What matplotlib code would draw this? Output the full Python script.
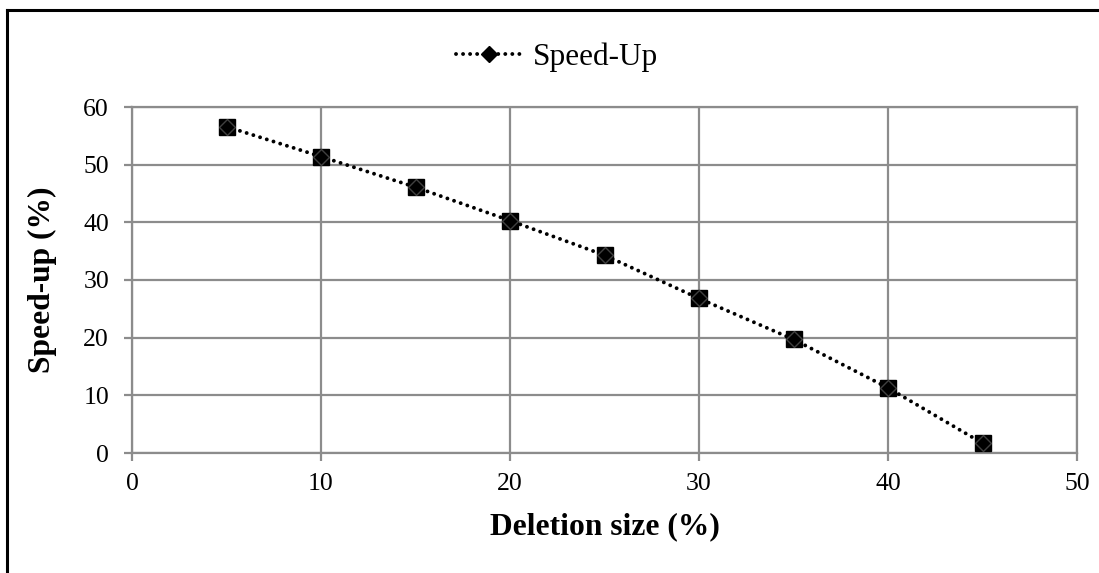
import matplotlib
matplotlib.use("Agg")
import matplotlib.pyplot as plt
from matplotlib.lines import Line2D

# data
deletion_size = [5, 10, 15, 20, 25, 30, 35, 40, 45]
speed_up = [56.6, 51.4, 46.1, 40.3, 34.3, 26.8, 19.7, 11.3, 1.7]
x_ticks = [0, 10, 20, 30, 40, 50]
y_ticks = [0, 10, 20, 30, 40, 50, 60]

plt.rcParams['font.family'] = ['Liberation Serif', 'DejaVu Serif']
grid_col = '#8c8c8c'

fig = plt.figure(figsize=(10.99, 5.73), dpi=100)
ax = fig.add_axes([132 / 1099, 1 - 453 / 573, 945 / 1099, 346 / 573])

dots = (0, (0.01, 1.8))
ax.plot(deletion_size, speed_up, color='black', lw=2.8, linestyle=dots,
        dash_capstyle='round', marker='s', ms=12, mfc='black', mec='black',
        zorder=3)
ax.plot(deletion_size, speed_up, linestyle='none', marker='D', ms=8.3,
        mfc='black', mec='#404040', mew=1.0, zorder=4)

ax.set_xlim(0, 50)
ax.set_ylim(0, 60)
ax.set_xticks(x_ticks)
ax.set_yticks(y_ticks)
ax.grid(True, color=grid_col, lw=1.6)
ax.set_axisbelow(True)
for s in ax.spines.values():
    s.set_color(grid_col)
    s.set_linewidth(1.6)
ax.tick_params(axis='both', direction='out', length=5.5, width=1.6,
               color=grid_col, labelsize=18.5, labelcolor='black')
ax.tick_params(axis='y', pad=11)
ax.tick_params(axis='x', pad=9)

ax.set_xlabel('Deletion size (%)', fontsize=22.7, fontweight='bold')
ax.set_ylabel('Speed-up (%)', fontsize=22.7, fontweight='bold')
ax.xaxis.set_label_coords(0.5, -0.172)
ax.yaxis.set_label_coords(-0.079, 0.5)

handle = Line2D([], [], color='black', lw=2.8, linestyle=dots,
                dash_capstyle='round', marker='D', ms=8, mfc='black',
                mec='black')
fig.legend([handle], ['Speed-Up'], loc='center', bbox_to_anchor=(0.507, 0.9),
           frameon=False, fontsize=22.5, handlelength=2.1, handletextpad=0.35)

# border of the original chart box (left and top edges visible)
fig.add_artist(Line2D([0.0065, 0.0065], [0, 0.9825], color='black', lw=2.2,
                      transform=fig.transFigure))
fig.add_artist(Line2D([0.0065, 1.0], [0.9825, 0.9825], color='black', lw=2.2,
                      transform=fig.transFigure))

fig.savefig('out.png', dpi=100)
